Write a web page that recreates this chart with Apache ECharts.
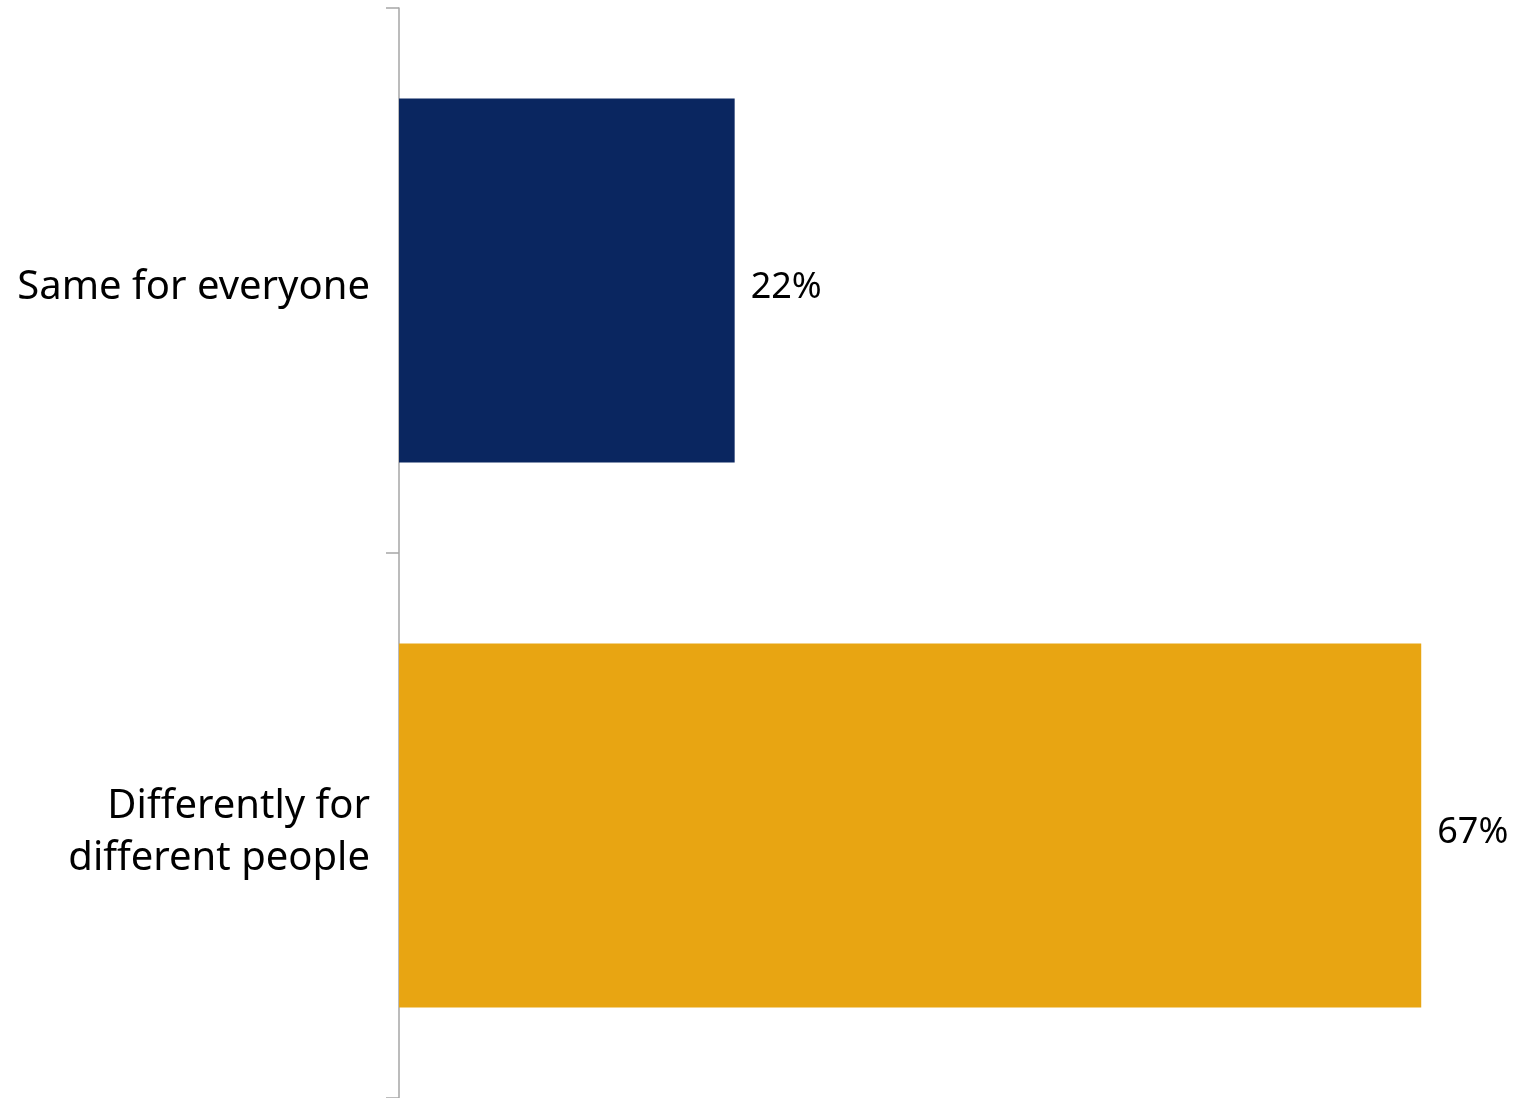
<!DOCTYPE html>
<html>
<head>
<meta charset="utf-8">
<script src="https://cdn.jsdelivr.net/npm/echarts@6/dist/echarts.min.js"></script>
<style>
html,body{margin:0;padding:0;background:#fff;}
#chart{width:1514px;height:1098px;}
</style>
</head>
<body>
<div id="chart"></div>
<script>
const categories = ["Same for everyone", "Differently for\ndifferent people"];
const values = [22, 67];
const colors = ["#0A2660", "#E8A512"];

const chart = echarts.init(document.getElementById('chart'));
chart.setOption({
  animation: false,
  grid: { left: 399, right: 47, top: 8, bottom: 0, containLabel: false },
  xAxis: {
    type: 'value', min: 0, max: 70,
    show: false
  },
  yAxis: {
    type: 'category',
    data: categories,
    inverse: true,
    axisLine: { show: true, lineStyle: { color: '#A6A6A6', width: 1.5 } },
    axisTick: { show: true, length: 13, lineStyle: { color: '#A6A6A6', width: 1.5 } },
    axisLabel: {
      margin: 29, align: 'right',
      formatter: function (v) {
        return '{s| }\n' + v.split('\n').map(function (l) { return '{a|' + l + '}'; }).join('\n');
      },
      rich: {
        s: { fontSize: 1, lineHeight: 14 },
        a: { fontSize: 40, lineHeight: 52, color: '#000', fontFamily: 'Noto Sans', align: 'right' }
      }
    }
  },
  series: [{
    type: 'bar',
    data: values.map((v, i) => ({ value: v, itemStyle: { color: colors[i] } })),
    barCategoryGap: '33.2%',
    label: {
      show: true, position: 'right', distance: 16, offset: [0, 7],
      formatter: '{c}%', fontSize: 36, color: '#000', fontFamily: 'Noto Sans'
    }
  }]
});
</script>
</body>
</html>
